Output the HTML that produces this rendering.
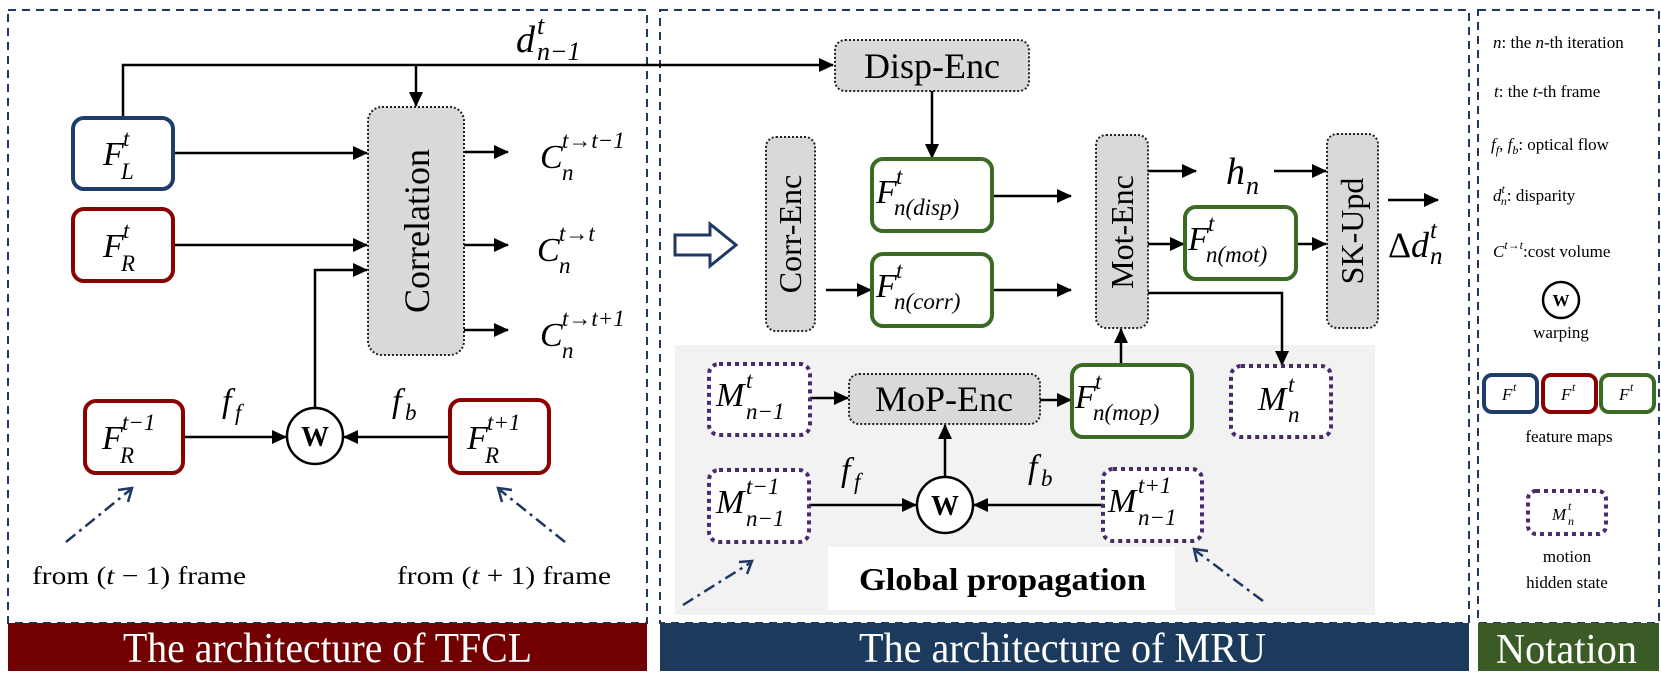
<!DOCTYPE html>
<html><head><meta charset="utf-8"><style>
html,body{margin:0;padding:0;background:#fff;}
svg{display:block;}
.m{font-family:"Liberation Serif","DejaVu Serif",serif;font-style:italic;}
.s{font-family:"Liberation Serif","DejaVu Serif",serif;}
</style></head><body>
<svg width="1661" height="673" viewBox="0 0 1661 673" xmlns="http://www.w3.org/2000/svg">
<defs>
<marker id="a" markerUnits="userSpaceOnUse" markerWidth="16" markerHeight="16" refX="14" refY="8" orient="auto"><path d="M0,1 L15,8 L0,15 z" fill="#000"/></marker>
</defs>
<g fill="none" stroke="#1f3864" stroke-width="2" stroke-dasharray="8 6">
<rect x="8" y="10" width="639" height="613"/>
<rect x="660" y="10" width="809" height="613"/>
<rect x="1478" y="10" width="181" height="613"/>
</g>
<rect x="675" y="345" width="700" height="270" fill="#f2f2f2"/>
<rect x="828" y="547" width="347" height="63" fill="#fff"/>
<text x="859" y="590" class="s" font-weight="bold" font-size="32" textLength="287" lengthAdjust="spacingAndGlyphs">Global propagation</text>
<rect x="8" y="623" width="639" height="48" fill="#730000"/>
<text x="123" y="662" class="s" font-size="42" fill="#fff" textLength="409" lengthAdjust="spacingAndGlyphs">The architecture of TFCL</text>
<rect x="660" y="623" width="809" height="48" fill="#1b3a5c"/>
<text x="859" y="662" class="s" font-size="42" fill="#fff" textLength="407" lengthAdjust="spacingAndGlyphs">The architecture of MRU</text>
<rect x="1478" y="623" width="181" height="48" fill="#3b5b26"/>
<text x="1496" y="663" class="s" font-size="42" fill="#fff" textLength="141" lengthAdjust="spacingAndGlyphs">Notation</text>

<g stroke="#000" stroke-width="2.5" fill="none">
<polyline points="123,118 123,65 833,65" marker-end="url(#a)"/>
<line x1="416" y1="65" x2="416" y2="106" marker-end="url(#a)"/>
<line x1="173" y1="153" x2="367" y2="153" marker-end="url(#a)"/>
<line x1="173" y1="245" x2="367" y2="245" marker-end="url(#a)"/>
<polyline points="315,408 315,270 367,270" marker-end="url(#a)"/>
<line x1="464" y1="152" x2="508" y2="152" marker-end="url(#a)"/>
<line x1="464" y1="245" x2="508" y2="245" marker-end="url(#a)"/>
<line x1="464" y1="330" x2="508" y2="330" marker-end="url(#a)"/>
<line x1="183" y1="437" x2="286" y2="437" marker-end="url(#a)"/>
<line x1="450" y1="437" x2="344" y2="437" marker-end="url(#a)"/>
<line x1="932" y1="91" x2="932" y2="158" marker-end="url(#a)"/>
<line x1="826" y1="290" x2="871" y2="290" marker-end="url(#a)"/>
<line x1="992" y1="196" x2="1071" y2="196" marker-end="url(#a)"/>
<line x1="992" y1="290" x2="1071" y2="290" marker-end="url(#a)"/>
<line x1="1148" y1="171" x2="1196" y2="171" marker-end="url(#a)"/>
<line x1="1274" y1="171" x2="1326" y2="171" marker-end="url(#a)"/>
<line x1="1148" y1="244" x2="1184" y2="244" marker-end="url(#a)"/>
<line x1="1296" y1="244" x2="1326" y2="244" marker-end="url(#a)"/>
<line x1="1388" y1="200" x2="1438" y2="200" marker-end="url(#a)"/>
<polyline points="1148,293 1282,293 1282,365" marker-end="url(#a)"/>
<line x1="1121" y1="365" x2="1121" y2="329" marker-end="url(#a)"/>
<line x1="810" y1="398" x2="848" y2="398" marker-end="url(#a)"/>
<line x1="1040" y1="400" x2="1071" y2="400" marker-end="url(#a)"/>
<line x1="809" y1="505" x2="916" y2="505" marker-end="url(#a)"/>
<line x1="1103" y1="505" x2="974" y2="505" marker-end="url(#a)"/>
<line x1="945" y1="476" x2="945" y2="425" marker-end="url(#a)"/>
</g>
<g stroke="#1f3864" stroke-width="2.5" fill="none">
<line x1="66" y1="542" x2="130" y2="490" stroke-dasharray="12 5 3 5"/>
<polyline points="118,490 132,488 128,502"/>
<line x1="565" y1="542" x2="500" y2="490" stroke-dasharray="12 5 3 5"/>
<polyline points="512,490 498,488 502,502"/>
<line x1="683" y1="605" x2="750" y2="563" stroke-dasharray="12 5 3 5"/>
<polyline points="739,562 752,561 747,574"/>
<line x1="1263" y1="601" x2="1196" y2="551" stroke-dasharray="12 5 3 5"/>
<polyline points="1208,551 1194,549 1197,562"/>
</g>
<polygon points="675,235 710,235 710,224 736,245 710,266 710,255 675,255" fill="#fff" stroke="#1f3864" stroke-width="3"/>

<g stroke-width="4" fill="#fff">
<rect x="73" y="118" width="100" height="71" rx="11" stroke="#1f3d6b"/>
<rect x="73" y="209" width="100" height="72" rx="11" stroke="#8b0000"/>
<rect x="85" y="401" width="98" height="72" rx="11" stroke="#8b0000"/>
<rect x="450" y="400" width="99" height="73" rx="11" stroke="#8b0000"/>
<rect x="872" y="159" width="120" height="72" rx="11" stroke="#3a6b24"/>
<rect x="872" y="254" width="120" height="72" rx="11" stroke="#3a6b24"/>
<rect x="1185" y="207" width="111" height="72" rx="11" stroke="#3a6b24"/>
<rect x="1072" y="365" width="120" height="72" rx="11" stroke="#3a6b24"/>
</g>
<g stroke-width="4" fill="#fff" stroke="#4b2a6b" stroke-dasharray="4 4">
<rect x="709" y="364" width="101" height="71" rx="10"/>
<rect x="709" y="470" width="100" height="72" rx="10"/>
<rect x="1103" y="469" width="99" height="72" rx="10"/>
<rect x="1231" y="366" width="100" height="71" rx="10"/>
<rect x="1528" y="491" width="78" height="43" rx="8"/>
</g>
<g fill="#d9d9d9" stroke="#222" stroke-width="2" stroke-dasharray="2 2">
<rect x="368" y="107" width="96" height="248" rx="14"/>
<rect x="835" y="40" width="194" height="51" rx="10"/>
<rect x="766" y="137" width="49" height="194" rx="10"/>
<rect x="1096" y="135" width="52" height="193" rx="10"/>
<rect x="1327" y="134" width="51" height="194" rx="10"/>
<rect x="849" y="374" width="191" height="50" rx="10"/>
</g>
<g class="s" font-size="36" text-anchor="middle">
<text transform="translate(429,231) rotate(-90)">Correlation</text>
<text transform="translate(801,234) rotate(-90)" font-size="32">Corr-Enc</text>
<text transform="translate(1133,232) rotate(-90)" font-size="32">Mot-Enc</text>
<text transform="translate(1363,231) rotate(-90)" font-size="32">SK-Upd</text>
<text x="932" y="78">Disp-Enc</text>
<text x="944" y="411">MoP-Enc</text>
</g>
<g fill="#fff" stroke="#000" stroke-width="2.5">
<circle cx="315" cy="436" r="28"/>
<circle cx="945" cy="505" r="28"/>
<circle cx="1561" cy="300" r="18"/>
</g>
<g class="s" font-weight="bold" text-anchor="middle">
<text x="315" y="446" font-size="28">W</text>
<text x="945" y="515" font-size="28">W</text>
<text x="1561" y="306" font-size="17">W</text>
</g>

<g class="m" font-size="34">
<text x="103" y="165">F</text><text x="123" y="146" font-size="23">t</text><text x="121" y="179" font-size="23">L</text>
<text x="103" y="257">F</text><text x="123" y="238" font-size="23">t</text><text x="121" y="271" font-size="23">R</text>
<text x="102" y="449">F</text><text x="122" y="430" font-size="23">t−1</text><text x="120" y="463" font-size="23">R</text>
<text x="467" y="449">F</text><text x="487" y="430" font-size="23">t+1</text><text x="485" y="463" font-size="23">R</text>
<text x="540" y="168">C</text><text x="562" y="148" font-size="23">t→t−1</text><text x="562" y="180" font-size="23">n</text>
<text x="537" y="261">C</text><text x="559" y="241" font-size="23">t→t</text><text x="559" y="273" font-size="23">n</text>
<text x="540" y="346">C</text><text x="562" y="326" font-size="23">t→t+1</text><text x="562" y="358" font-size="23">n</text>
<text x="516" y="52" font-size="38">d</text><text x="537" y="34" font-size="26">t</text><text x="537" y="60" font-size="26">n−1</text>
<text x="222" y="412">f</text><text x="235" y="420" font-size="23">f</text>
<text x="392" y="412">f</text><text x="405" y="420" font-size="23">b</text>
<text x="876" y="203">F</text><text x="896" y="184" font-size="23">t</text><text x="894" y="215" font-size="23">n(disp)</text>
<text x="876" y="297">F</text><text x="896" y="278" font-size="23">t</text><text x="894" y="309" font-size="23">n(corr)</text>
<text x="1188" y="250">F</text><text x="1208" y="231" font-size="23">t</text><text x="1206" y="262" font-size="23">n(mot)</text>
<text x="1075" y="408">F</text><text x="1095" y="389" font-size="23">t</text><text x="1093" y="420" font-size="23">n(mop)</text>
<text x="1226" y="184" font-size="38">h</text><text x="1246" y="194" font-size="26">n</text>
<text x="1388" y="257" font-size="36" font-style="normal">Δ</text><text x="1411" y="257" font-size="36">d</text><text x="1430" y="238" font-size="25">t</text><text x="1430" y="264" font-size="25">n</text>
<text x="716" y="406">M</text><text x="746" y="388" font-size="23">t</text><text x="746" y="419" font-size="23">n−1</text>
<text x="716" y="513">M</text><text x="746" y="494" font-size="23">t−1</text><text x="746" y="526" font-size="23">n−1</text>
<text x="1108" y="512">M</text><text x="1138" y="493" font-size="23">t+1</text><text x="1138" y="525" font-size="23">n−1</text>
<text x="1258" y="410">M</text><text x="1288" y="392" font-size="23">t</text><text x="1288" y="422" font-size="23">n</text>
<text x="841" y="481">f</text><text x="854" y="489" font-size="23">f</text>
<text x="1028" y="478">f</text><text x="1041" y="486" font-size="23">b</text>
</g>
<text x="32" y="584" class="s" font-size="25" textLength="214" lengthAdjust="spacingAndGlyphs">from (<tspan font-style="italic">t</tspan> − 1) frame</text>
<text x="397" y="584" class="s" font-size="25" textLength="214" lengthAdjust="spacingAndGlyphs">from (<tspan font-style="italic">t</tspan> + 1) frame</text>

<g class="s" font-size="17">
<text x="1493" y="48"><tspan font-style="italic">n</tspan>: the <tspan font-style="italic">n</tspan>-th iteration</text>
<text x="1494" y="97"><tspan font-style="italic">t</tspan>: the <tspan font-style="italic">t</tspan>-th frame</text>
<text x="1491" y="150"><tspan font-style="italic">f</tspan><tspan font-style="italic" font-size="12" dy="4">f</tspan><tspan dy="-4">, </tspan><tspan font-style="italic">f</tspan><tspan font-style="italic" font-size="12" dy="4">b</tspan><tspan dy="-4">: optical flow</tspan></text>
<text x="1493" y="201"><tspan font-style="italic">d</tspan><tspan font-style="italic" font-size="12" dy="-8">t</tspan><tspan font-style="italic" font-size="12" dx="-4" dy="12">n</tspan><tspan dy="-4">: disparity</tspan></text>
<text x="1493" y="257"><tspan font-style="italic">C</tspan><tspan font-style="italic" font-size="12" dy="-8">t→t</tspan><tspan dy="8">:cost volume</tspan></text>
<text x="1561" y="338" text-anchor="middle">warping</text>
<text x="1569" y="442" text-anchor="middle">feature maps</text>
<text x="1567" y="562" text-anchor="middle">motion</text>
<text x="1567" y="588" text-anchor="middle">hidden state</text>
</g>
<g stroke-width="4" fill="#fff">
<rect x="1484" y="375" width="53" height="37" rx="8" stroke="#1f3d6b"/>
<rect x="1543" y="375" width="53" height="37" rx="8" stroke="#8b0000"/>
<rect x="1601" y="375" width="53" height="37" rx="8" stroke="#3a6b24"/>
</g>
<g class="m" font-size="17">
<text x="1502" y="400">F</text><text x="1513" y="391" font-size="12">t</text>
<text x="1561" y="400">F</text><text x="1572" y="391" font-size="12">t</text>
<text x="1619" y="400">F</text><text x="1630" y="391" font-size="12">t</text>
<text x="1552" y="520">M</text><text x="1568" y="510" font-size="12">t</text><text x="1568" y="525" font-size="12">n</text>
</g>
</svg>
</body></html>
